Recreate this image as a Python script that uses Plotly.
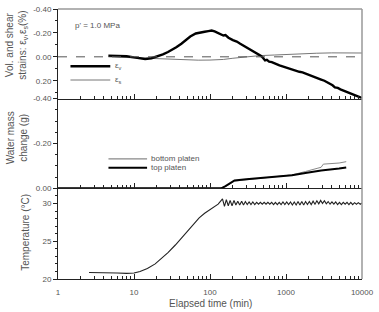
import plotly.graph_objects as go

# ---------------- data ----------------
ev_t = [4.6, 6, 8, 10, 12, 14, 17, 20, 24, 28, 32, 36, 42, 48, 55, 65, 75, 85, 95, 105,
        115, 125, 135, 150, 160, 175, 200, 225, 250, 280, 310, 350, 390, 430, 470, 500,
        530, 560, 600, 650, 700, 760, 820, 900, 1000, 1100, 1200, 1350, 1500, 1650, 1800,
        2000, 2200, 2400, 2650, 2900, 3200, 3500, 3800, 4100, 4400, 4800, 5200, 5600,
        6000, 6500, 7000, 7500, 8000, 8500, 9000, 9500, 10000]
ev_v = [-0.01, -0.01, -0.005, 0.005, 0.015, 0.018, 0.012, 0.0, -0.02, -0.04, -0.06, -0.08,
        -0.11, -0.14, -0.17, -0.195, -0.205, -0.21, -0.215, -0.22, -0.212, -0.2, -0.19,
        -0.178, -0.182, -0.16, -0.14, -0.128, -0.11, -0.092, -0.075, -0.055, -0.037,
        -0.02, -0.008, 0.01, 0.03, 0.025, 0.04, 0.045, 0.055, 0.06, 0.072, 0.08, 0.09,
        0.097, 0.105, 0.112, 0.125, 0.13, 0.14, 0.15, 0.16, 0.175, 0.18, 0.19, 0.2,
        0.215, 0.222, 0.238, 0.255, 0.26, 0.272, 0.28, 0.293, 0.3, 0.31, 0.315, 0.325,
        0.33, 0.336, 0.342, 0.345]

es_t = [4.6, 7, 10, 14, 20, 30, 45, 70, 100, 150, 200, 300, 450, 700, 1000, 1500, 2500,
        4000, 6000, 8000, 10000]
es_v = [0.0, 0.005, 0.005, 0.01, 0.015, 0.02, 0.025, 0.028, 0.027, 0.022, 0.012, 0.0,
        -0.01, -0.015, -0.02, -0.025, -0.03, -0.033, -0.035, -0.035, -0.032]

wm_t = [1, 50, 140, 160, 190, 210, 300, 500, 800, 1200, 1800, 2500, 2900, 3100, 4000,
        5000, 6200]
wm_top = [0, 0, 0, -0.01, -0.028, -0.035, -0.04, -0.046, -0.052, -0.058, -0.068, -0.078,
          -0.08, -0.081, -0.084, -0.088, -0.093]
wm_bottom = [0, 0, 0, -0.008, -0.025, -0.032, -0.038, -0.045, -0.052, -0.06, -0.075,
             -0.09, -0.094, -0.108, -0.11, -0.113, -0.119]

temp_t = [2.56, 4, 6, 8, 10, 12, 15, 19, 23, 28, 35, 42, 50, 60, 72, 85, 100, 115, 128,
          138, 146, 155, 164, 174, 184, 195, 207, 219, 232, 246, 261, 276, 292, 309, 327,
          346, 366, 388, 411, 435, 460, 487, 516, 546, 578, 612, 648, 686, 726, 769, 814,
          862, 912, 966, 1022, 1082, 1146, 1213, 1284, 1360, 1440, 1524, 1614, 1709, 1809,
          1915, 2028, 2147, 2273, 2407, 2548, 2698, 2856, 3024, 3202, 3390, 3589, 3800,
          4023, 4259, 4510, 4775, 5055, 5352, 5667, 6000, 6352, 6726, 7121, 7539, 7982,
          8451, 8948, 9473, 10000]
temp_v = [20.85, 20.85, 20.8, 20.75, 20.8, 21.0, 21.4, 22.0, 22.7, 23.5, 24.5, 25.4, 26.4,
          27.3, 28.1, 28.7, 29.2, 29.6, 29.9,
          30.3, 30.6, 29.6, 30.5, 29.7, 30.4, 29.7, 30.4, 29.8, 30.3, 29.8, 30.3, 29.8,
          30.25, 29.85, 30.2, 29.85, 30.2, 29.85, 30.15, 29.9, 30.15, 29.9, 30.15, 29.9,
          30.15, 29.9, 30.15, 29.85, 30.15, 29.85, 30.15, 29.85, 30.2, 29.85, 30.2, 29.85,
          30.2, 29.8, 30.2, 29.8, 30.25, 29.8, 30.25, 29.8, 30.25, 29.85, 30.25, 29.85,
          30.3, 29.9, 30.35, 29.95, 30.4, 30.0, 30.35, 29.95, 30.25, 29.9, 30.2, 29.9,
          30.2, 29.85, 30.15, 29.85, 30.15, 29.9, 30.15, 29.85, 30.15, 29.85, 30.1, 29.9,
          30.1, 29.9, 30.05]

x_major = [1, 10, 100, 1000, 10000]
x_labels = ["1", "10", "100", "1000", "10000"]
x_minor = [m * d for d in [1, 10, 100, 1000] for m in range(2, 10)]

y1_ticks = [-0.4, -0.2, 0.0, 0.2]
y1_labels = ["-0.40", "-0.20", "0.00", "0.20"]
y2_ticks = [-0.4, -0.2, 0.0]
y2_labels = ["-0.40", "-0.20", "0.00"]
y3_ticks = [20, 25, 30]
y3_labels = ["20", "25", "30"]

# ---------------- figure ----------------
FONT = "Liberation Sans, Arial, sans-serif"
TXT = "#555555"
AX = "#222222"

fig = go.Figure()
fig.add_trace(go.Scatter(x=es_t, y=es_v, mode="lines", line=dict(color="#777777", width=1),
                         xaxis="x", yaxis="y"))
fig.add_trace(go.Scatter(x=ev_t, y=ev_v, mode="lines", line=dict(color="#000000", width=2.4),
                         xaxis="x", yaxis="y"))
fig.add_trace(go.Scatter(x=wm_t, y=wm_bottom, mode="lines", line=dict(color="#888888", width=1),
                         xaxis="x2", yaxis="y2"))
fig.add_trace(go.Scatter(x=wm_t, y=wm_top, mode="lines", line=dict(color="#000000", width=2),
                         xaxis="x2", yaxis="y2"))
fig.add_trace(go.Scatter(x=temp_t, y=temp_v, mode="lines", line=dict(color="#222222", width=1.1),
                         xaxis="x3", yaxis="y3"))

d3 = [0, 0.3358]
d2 = [0.3358, 0.6679]
d1 = [0.6679, 1.0]

def xax(anchor, labels):
    return dict(type="log", range=[0, 4], anchor=anchor, domain=[0, 1],
                tickmode="array", tickvals=x_major, ticktext=x_labels,
                showticklabels=labels, ticks="inside", ticklen=5, tickcolor=AX,
                ticklabeloverflow="allow", ticklabelstandoff=5,
                minor=dict(tickmode="array", tickvals=x_minor, ticks="inside", ticklen=3,
                           tickcolor=AX),
                showline=True, linecolor=AX, linewidth=1, showgrid=False, zeroline=False,
                tickfont=dict(size=8, color=TXT, family=FONT))

def yax(anchor, dom, rng, tv, tt, mdt):
    return dict(anchor=anchor, domain=dom, range=rng, tickmode="array", tickvals=tv,
                ticktext=tt, ticks="outside", ticklen=4, tickcolor=AX,
                minor=dict(dtick=mdt, ticks="outside", ticklen=2, tickcolor=AX),
                showline=True, linecolor=AX, linewidth=1, showgrid=False, zeroline=False,
                tickfont=dict(size=8, color=TXT, family=FONT))

fig.update_layout(
    width=379, height=312,
    margin=dict(l=58, r=7, t=5, b=33),
    paper_bgcolor="white", plot_bgcolor="white",
    showlegend=False,
    font=dict(family=FONT, color=TXT, size=8),
    xaxis=xax("y", False),
    xaxis2=xax("y2", False),
    xaxis3=xax("y3", True),
    yaxis=yax("x", d1, [0.35, -0.40], y1_ticks, y1_labels, 0.1),
    yaxis2=yax("x2", d2, [0.0, -0.40], y2_ticks, y2_labels, 0.05),
    yaxis3=yax("x3", d3, [20, 32], y3_ticks, y3_labels, 1),
)

shapes = [
    # zero reference (dashed)
    dict(type="line", xref="x domain", yref="y", x0=0, x1=1, y0=0, y1=0,
         line=dict(color="#555555", width=1, dash="dash")),
    # frame top/right
    dict(type="line", xref="paper", yref="paper", x0=0, x1=1, y0=1, y1=1,
         line=dict(color="#999999", width=1.5)),
    dict(type="line", xref="paper", yref="paper", x0=1, x1=1, y0=0, y1=1,
         line=dict(color="#999999", width=1.5)),
    # legend samples panel 1
    dict(type="line", xref="paper", yref="paper", x0=0.041, x1=0.172, y0=0.788, y1=0.788,
         line=dict(color="#000000", width=2.4)),
    dict(type="line", xref="paper", yref="paper", x0=0.041, x1=0.172, y0=0.737, y1=0.737,
         line=dict(color="#777777", width=1)),
    # legend samples panel 2
    dict(type="line", xref="paper", yref="paper", x0=0.166, x1=0.293, y0=0.445, y1=0.445,
         line=dict(color="#888888", width=1.2)),
    dict(type="line", xref="paper", yref="paper", x0=0.166, x1=0.293, y0=0.412, y1=0.412,
         line=dict(color="#000000", width=2)),
]
fig.update_layout(shapes=shapes)

ann = []
def a(text, x, y, size=8, angle=0, xanchor="left", yanchor="middle", align="left"):
    ann.append(dict(text=text, x=x, y=y, xref="paper", yref="paper", showarrow=False,
                    xanchor=xanchor, yanchor=yanchor, textangle=angle, align=align,
                    font=dict(size=size, color=TXT, family=FONT)))

a("p' = 1.0 MPa", 0.048, 0.94)
a("ε<sub>v</sub>", 0.182, 0.788)
a("ε<sub>s</sub>", 0.182, 0.737)
a("bottom platen", 0.298, 0.445)
a("top platen", 0.298, 0.412)
a("Vol. and shear<br>strains: ε<sub>v</sub>,ε<sub>s</sub>(%)", -0.137, 0.865, size=10,
  angle=-90, xanchor="center", align="center")
a("Water mass<br>change (g)", -0.134, 0.522, size=10, angle=-90, xanchor="center",
  align="center")
a("Temperature (°C)", -0.105, 0.1715, size=10, angle=-90, xanchor="center", align="center")
a("Elapsed time (min)", 0.5, -0.091, size=10, xanchor="center")
fig.update_layout(annotations=ann)

fig.write_html("out.html")
